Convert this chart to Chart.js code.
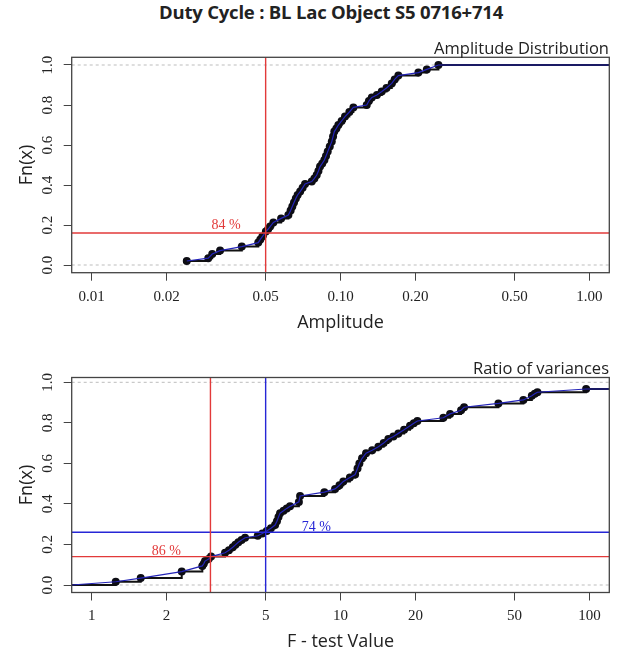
<!DOCTYPE html>
<html>
<head>
<meta charset="utf-8">
<script src="https://cdn.jsdelivr.net/npm/chart.js@4.4.1/dist/chart.umd.min.js"></script>
<style>
  body { margin: 0; background: #fff; width: 628px; height: 655px; position: relative; overflow: hidden; }
  .wrap { position: absolute; left: 0; width: 628px; }
  .txt { position: absolute; font-family: "Open Sans", sans-serif; color: #222; white-space: nowrap; z-index: 2; }
  #mainTitle { top: -1px; left: 0; width: 662px; text-align: center; font-weight: bold; font-size: 18.5px; letter-spacing: -0.2px; }
  .sub { right: 19px; font-size: 16.5px; }
</style>
</head>
<body>
<div class="wrap" style="top:30px;height:320px"><canvas id="ampChart" width="628" height="320"></canvas></div>
<div class="wrap" style="top:350px;height:305px"><canvas id="ftestChart" width="628" height="305"></canvas></div>
<div class="txt" id="mainTitle">Duty Cycle : BL Lac Object S5 0716+714</div>
<div class="txt sub" style="top:36px">Amplitude Distribution</div>
<div class="txt sub" style="top:356px">Ratio of variances</div>
<script>
// ── Amplitude distribution (top panel) ──
const ampX = [0.0241, 0.0294, 0.0305, 0.0328, 0.0401, 0.0467, 0.0476, 0.0485, 0.0501, 0.0512,
  0.0521, 0.0537, 0.0577, 0.0617, 0.0630, 0.0640, 0.0650, 0.0661, 0.0672, 0.0688,
  0.0704, 0.0720, 0.0766, 0.0785, 0.0802, 0.0815, 0.0827, 0.0844, 0.0861, 0.0874,
  0.0888, 0.0905, 0.0922, 0.0933, 0.0944, 0.0962, 0.0980, 0.1010, 0.1042, 0.1085,
  0.1126, 0.1274, 0.1300, 0.1335, 0.1400, 0.1464, 0.1530, 0.1606, 0.1650, 0.1707,
  0.2055, 0.2221, 0.2473];
const ampFn = [0.020, 0.034, 0.055, 0.072, 0.092, 0.112, 0.128, 0.142, 0.167, 0.180,
  0.192, 0.213, 0.233, 0.250, 0.272, 0.292, 0.312, 0.333, 0.350, 0.367,
  0.386, 0.405, 0.417, 0.433, 0.450, 0.470, 0.492, 0.508, 0.525, 0.545,
  0.567, 0.592, 0.617, 0.642, 0.667, 0.683, 0.700, 0.720, 0.742, 0.765,
  0.788, 0.800, 0.820, 0.838, 0.850, 0.867, 0.885, 0.908, 0.928, 0.947,
  0.962, 0.978, 1.000];
const ampTicks = [0.01, 0.02, 0.05, 0.1, 0.2, 0.5, 1];
const ampTickLabels = ["0.01", "0.02", "0.05", "0.10", "0.20", "0.50", "1.00"];
const ampCut = 0.05;
const ampLevel = 0.16;

// ── F-test ratio of variances (bottom panel) ──
const ftestX = [1.249, 1.574, 2.300, 2.783, 2.820, 2.854, 2.950, 3.017, 3.434, 3.560,
  3.688, 3.780, 3.884, 4.000, 4.133, 4.648, 4.850, 5.051, 5.250, 5.455,
  5.550, 5.630, 5.713, 5.900, 6.077, 6.266, 6.800, 6.876, 8.607, 9.504,
  9.900, 10.26, 10.90, 11.44, 11.70, 11.90, 12.20, 12.66, 13.40, 14.19,
  14.90, 15.56, 16.30, 17.07, 18.00, 19.02, 19.70, 20.36, 25.89, 27.55,
  30.50, 31.36, 43.08, 54.28, 58.69, 60.30, 61.81, 97.00];
const ftestFn = [0.016, 0.034, 0.066, 0.094, 0.105, 0.118, 0.128, 0.140, 0.159, 0.172,
  0.186, 0.198, 0.211, 0.222, 0.233, 0.243, 0.254, 0.266, 0.280, 0.296,
  0.315, 0.335, 0.354, 0.366, 0.378, 0.388, 0.410, 0.439, 0.458, 0.474,
  0.492, 0.511, 0.530, 0.545, 0.575, 0.600, 0.625, 0.650, 0.665, 0.682,
  0.700, 0.720, 0.733, 0.748, 0.766, 0.786, 0.798, 0.809, 0.825, 0.844,
  0.862, 0.877, 0.896, 0.913, 0.934, 0.943, 0.951, 0.967];
const ftestTicks = [1, 2, 5, 10, 20, 50, 100];
const ftestTickLabels = ["1", "2", "5", "10", "20", "50", "100"];
const ftestRedCut = 3;
const ftestRedLevel = 0.14;
const ftestBlueCut = 5;
const ftestBlueLevel = 0.26;

const fnTicks = [0, 0.2, 0.4, 0.6, 0.8, 1.0];
const fnTickLabels = ["0.0", "0.2", "0.4", "0.6", "0.8", "1.0"];

const RED = "#e23a3a";
const BLUE = "#2626d6";
const SERIF = '"Liberation Serif", "Times New Roman", serif';
const SANS = '"Open Sans", sans-serif';

function pts(xs, ys) {
  return xs.map((x, i) => ({ x: x, y: ys[i] }));
}

function hLine(y, x0, x1, color, order, dash) {
  return { data: [{ x: x0, y: y }, { x: x1, y: y }], showLine: true, pointRadius: 0,
    borderColor: color, borderWidth: dash ? 1 : 1.4, borderDash: dash || [], order: order };
}
function vLine(x, y0, y1, color, order) {
  return { data: [{ x: x, y: y0 }, { x: x, y: y1 }], showLine: true, pointRadius: 0,
    borderColor: color, borderWidth: 1.4, order: order };
}

// box, rotated y tick labels and the % notes, R style
const rPanel = {
  id: "rPanel",
  afterDraw(chart, args, opts) {
    const ctx = chart.ctx;
    const a = chart.chartArea;
    const y = chart.scales.y;
    const x = chart.scales.x;
    ctx.save();
    ctx.strokeStyle = "#444";
    ctx.lineWidth = 1.3;
    ctx.strokeRect(a.left, a.top, a.right - a.left, a.bottom - a.top);

    ctx.fillStyle = "#222";
    ctx.font = "15px " + SERIF;
    ctx.textAlign = "center";
    ctx.textBaseline = "middle";
    fnTicks.forEach((v, i) => {
      ctx.save();
      ctx.translate(48, y.getPixelForValue(v));
      ctx.rotate(-Math.PI / 2);
      ctx.fillText(fnTickLabels[i], 0, 0);
      ctx.restore();
    });

    ctx.font = "14px " + SERIF;
    (opts.notes || []).forEach(n => {
      ctx.fillStyle = n.color;
      ctx.fillText(n.text, x.getPixelForValue(n.x), y.getPixelForValue(n.y));
    });
    ctx.restore();
  }
};

function buildPanel(canvasId, p) {
  const lastFn = p.fns[p.fns.length - 1];
  const lineX = p.fromZero ? [p.xMin].concat(p.xs, [p.xMax]) : p.xs.concat([p.xMax]);
  const lineY = p.fromZero ? [0].concat(p.fns, [lastFn]) : p.fns.concat([lastFn]);

  const datasets = [
    hLine(0, p.xMin, p.xMax, "#bdbdbd", 5, [3, 3]),
    hLine(1, p.xMin, p.xMax, "#bdbdbd", 5, [3, 3]),
    // ECDF steps (flat, then jump)
    { data: pts(lineX, lineY), showLine: true, stepped: "before", pointRadius: 0,
      borderColor: "#111", borderWidth: 2, order: 4 },
    // observations
    { data: pts(p.xs, p.fns), showLine: false, pointRadius: 4, pointBackgroundColor: "#0d0d14",
      pointBorderWidth: 0, order: 3 },
    // joined points
    { data: pts(lineX, lineY), showLine: true, pointRadius: 0,
      borderColor: "#2424b8", borderWidth: 1.2, order: 2 }
  ].concat(p.refs);

  new Chart(document.getElementById(canvasId), {
    type: "scatter",
    data: { datasets: datasets },
    options: {
      responsive: false,
      animation: false,
      devicePixelRatio: 1,
      layout: { padding: { top: p.padTop, right: 18.7, left: 0, bottom: 0 } },
      plugins: {
        legend: { display: false },
        tooltip: { enabled: false },
        rPanel: { notes: p.notes }
      },
      scales: {
        x: {
          type: "logarithmic",
          min: p.xMin,
          max: p.xMax,
          afterBuildTicks: s => { s.ticks = p.xTicks.map(v => ({ value: v })); },
          afterFit: s => { s.height = p.xAxisHeight; },
          grid: { drawOnChartArea: false, drawTicks: true, tickLength: 8, color: "#444" },
          border: { display: false },
          ticks: {
            autoSkip: false, maxRotation: 0, padding: 7, color: "#222",
            font: { family: SERIF, size: 15 },
            callback: (v, i) => p.xLabels[i]
          },
          title: { display: true, text: p.xTitle, color: "#222",
            font: { family: SANS, size: 18 }, padding: { top: 0, bottom: p.titlePad } }
        },
        y: {
          type: "linear",
          min: p.yMin,
          max: p.yMax,
          afterBuildTicks: s => { s.ticks = fnTicks.map(v => ({ value: v })); },
          afterFit: s => { s.width = 71.7; },
          grid: { drawOnChartArea: false, drawTicks: true, tickLength: 8, color: "#444" },
          border: { display: false },
          ticks: { display: false },
          title: { display: true, text: "Fn(x)", color: "#222",
            font: { family: SANS, size: 18 }, padding: { top: 16, bottom: 0 } }
        }
      }
    },
    plugins: [rPanel]
  });
}

buildPanel("ampChart", {
  xs: ampX, fns: ampFn, fromZero: false,
  xMin: 0.00831, xMax: 1.202, yMin: -0.0385, yMax: 1.0385,
  xTicks: ampTicks, xLabels: ampTickLabels, xTitle: "Amplitude",
  padTop: 27.3, xAxisHeight: 77.3, titlePad: 16,
  refs: [
    hLine(ampLevel, 0.00831, 1.202, RED, 0),
    vLine(ampCut, -0.0385, 1.0385, RED, 0)
  ],
  notes: [{ text: "84 %", x: 0.0347, y: 0.1965, color: RED }]
});

buildPanel("ftestChart", {
  xs: ftestX, fns: ftestFn, fromZero: true,
  xMin: 0.831, xMax: 120.2, yMin: -0.037, yMax: 1.0237,
  xTicks: ftestTicks, xLabels: ftestTickLabels, xTitle: "F - test Value",
  padTop: 27.5, xAxisHeight: 62.5, titlePad: 2.5,
  refs: [
    hLine(ftestRedLevel, 0.831, 120.2, RED, 0),
    vLine(ftestRedCut, -0.037, 1.0237, RED, 0),
    hLine(ftestBlueLevel, 0.831, 120.2, BLUE, 0),
    vLine(ftestBlueCut, -0.037, 1.0237, BLUE, 0)
  ],
  notes: [
    { text: "86 %", x: 1.994, y: 0.164, color: RED },
    { text: "74 %", x: 7.99, y: 0.285, color: BLUE }
  ]
});
</script>
</body>
</html>
